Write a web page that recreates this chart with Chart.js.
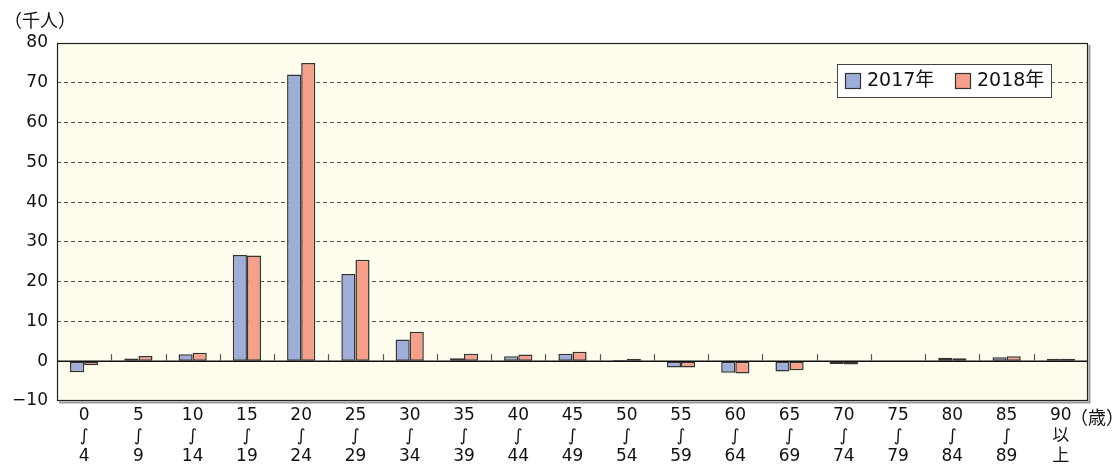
<!DOCTYPE html>
<html>
<head>
<meta charset="utf-8">
<script src="https://cdn.jsdelivr.net/npm/chart.js@4/dist/chart.umd.min.js"></script>
<style>
  html, body { margin: 0; padding: 0; background: #fff; }
  #wrap { width: 1120px; height: 465px; position: relative; }
</style>
</head>
<body>
<div id="wrap"><canvas id="chart" width="1120" height="465"></canvas></div>
<script>
// age groups (three-line labels)
const categories = [
    ['0', '∫', '4'], ['5', '∫', '9'], ['10', '∫', '14'], ['15', '∫', '19'],
    ['20', '∫', '24'], ['25', '∫', '29'], ['30', '∫', '34'], ['35', '∫', '39'],
    ['40', '∫', '44'], ['45', '∫', '49'], ['50', '∫', '54'], ['55', '∫', '59'],
    ['60', '∫', '64'], ['65', '∫', '69'], ['70', '∫', '74'], ['75', '∫', '79'],
    ['80', '∫', '84'], ['85', '∫', '89'], ['90', '以', '上']
];
const seriesNames = ['2017年', '2018年'];
const values2017 = [-2.8, 0.7, 1.75, 26.7, 72.1, 21.9, 5.45, 0.75, 1.25, 1.85, 0.3, -1.6, -2.9, -2.6, -0.7, 0.05, 0.9, 1.0, 0.6];
const values2018 = [-1.0, 1.3, 2.1, 26.6, 75.0, 25.5, 7.4, 1.9, 1.7, 2.4, 0.6, -1.6, -3.1, -2.3, -0.8, 0.2, 0.75, 1.25, 0.6];
const yMin = -10, yMax = 80, yStep = 10;
const unitY = '（千人）';
const unitX = '（歳）';

const NUM_FONT = '"DejaVu Sans", "Noto Sans CJK JP", sans-serif';
const JP_FONT = '"Noto Sans CJK JP", "DejaVu Sans", sans-serif';

// background, ticks on zero line, frame, legend, unit labels
const decor = {
    id: 'decor',
    beforeDraw(chart) {
        const { ctx, chartArea: a } = chart;
        ctx.save();
        ctx.fillStyle = '#fefcec';
        ctx.fillRect(a.left, a.top, a.right - a.left, a.bottom - a.top);
        ctx.restore();
    },
    afterDatasetsDraw(chart) {
        const { ctx, chartArea: a, scales } = chart;
        const x = scales.x, y = scales.y;
        const y0 = y.getPixelForValue(0);
        ctx.save();
        // zero line
        ctx.strokeStyle = '#111';
        ctx.lineWidth = 1.5;
        ctx.beginPath();
        ctx.moveTo(a.left, y0);
        ctx.lineTo(a.right, y0);
        ctx.stroke();
        // small ticks between categories
        ctx.strokeStyle = '#555';
        ctx.lineWidth = 1.2;
        for (let i = 1; i < categories.length; i++) {
            const px = Math.round((x.getPixelForValue(i - 1) + x.getPixelForValue(i)) / 2) + 0.5;
            ctx.beginPath();
            ctx.moveTo(px, y0);
            ctx.lineTo(px, y0 - 7);
            ctx.stroke();
        }
        ctx.restore();
    },
    afterDraw(chart) {
        const { ctx, chartArea: a } = chart;
        ctx.save();
        // frame with a soft shadow right / bottom
        ctx.strokeStyle = '#999';
        ctx.lineWidth = 2;
        ctx.beginPath();
        ctx.moveTo(a.right + 1.5, a.top + 2);
        ctx.lineTo(a.right + 1.5, a.bottom + 1.5);
        ctx.lineTo(a.left + 2, a.bottom + 1.5);
        ctx.stroke();
        ctx.strokeStyle = '#222';
        ctx.lineWidth = 1.2;
        ctx.strokeRect(a.left + 0.5, a.top + 0.5, a.right - a.left - 1, a.bottom - a.top - 1);

        // legend
        const lx = 837, ly = 64, lw = 214, lh = 33;
        ctx.fillStyle = '#ffffff';
        ctx.fillRect(lx, ly, lw, lh);
        ctx.strokeStyle = '#444';
        ctx.lineWidth = 1;
        ctx.strokeRect(lx + 0.5, ly + 0.5, lw, lh);
        const itemX = [845, 955];
        ctx.font = '19px ' + NUM_FONT;
        ctx.textBaseline = 'middle';
        ctx.textAlign = 'left';
        chart.data.datasets.forEach((ds, i) => {
            ctx.fillStyle = ds.backgroundColor;
            ctx.fillRect(itemX[i], ly + 9, 15, 15);
            ctx.strokeStyle = '#333';
            ctx.lineWidth = 1.2;
            ctx.strokeRect(itemX[i] + 0.5, ly + 9.5, 15, 15);
            ctx.fillStyle = '#111';
            ctx.fillText(ds.label, itemX[i] + 22, ly + 17.5);
        });

        // unit labels
        ctx.fillStyle = '#111';
        ctx.font = '18px ' + JP_FONT;
        ctx.textAlign = 'left';
        ctx.fillText(unitY, 4, 20);
        ctx.fillText(unitX, 1070, 417);
        ctx.restore();
    }
};

const ctx = document.getElementById('chart').getContext('2d');
const chart = new Chart(ctx, {
    type: 'bar',
    data: {
        labels: categories,
        datasets: [
            {
                label: seriesNames[0],
                data: values2017,
                backgroundColor: '#9eaed8',
                borderColor: '#333',
                borderWidth: 1.5,
                borderSkipped: false
            },
            {
                label: seriesNames[1],
                data: values2018,
                backgroundColor: '#f4a08a',
                borderColor: '#333',
                borderWidth: 1.5,
                borderSkipped: false
            }
        ]
    },
    options: {
        responsive: false,
        animation: false,
        devicePixelRatio: 1,
        layout: { padding: { top: 43, right: 32, left: 0, bottom: 0 } },
        datasets: {
            bar: { categoryPercentage: 0.52, barPercentage: 1.0 }
        },
        plugins: {
            legend: { display: false },
            tooltip: { enabled: false }
        },
        scales: {
            x: {
                grid: { display: false, drawTicks: false },
                border: { display: false },
                ticks: {
                    color: '#111',
                    font: { family: NUM_FONT, size: 17, lineHeight: 1.18 },
                    padding: 5,
                    maxRotation: 0,
                    autoSkip: false
                },
                afterFit(scale) { scale.height = 64; }
            },
            y: {
                min: yMin,
                max: yMax,
                grid: {
                    drawTicks: false,
                    lineWidth: 1,
                    color: c => (c.tick.value === 0 || c.tick.value === yMin || c.tick.value === yMax) ? 'rgba(0,0,0,0)' : '#555'
                },
                border: { display: false, dash: [4, 3] },
                ticks: {
                    stepSize: yStep,
                    color: '#111',
                    padding: 9,
                    font: { family: NUM_FONT, size: 17 },
                    callback: v => v < 0 ? '\u2212' + Math.abs(v) : String(v)
                },
                afterFit(scale) { scale.width = 57; }
            }
        }
    },
    plugins: [decor]
});
</script>
</body>
</html>
